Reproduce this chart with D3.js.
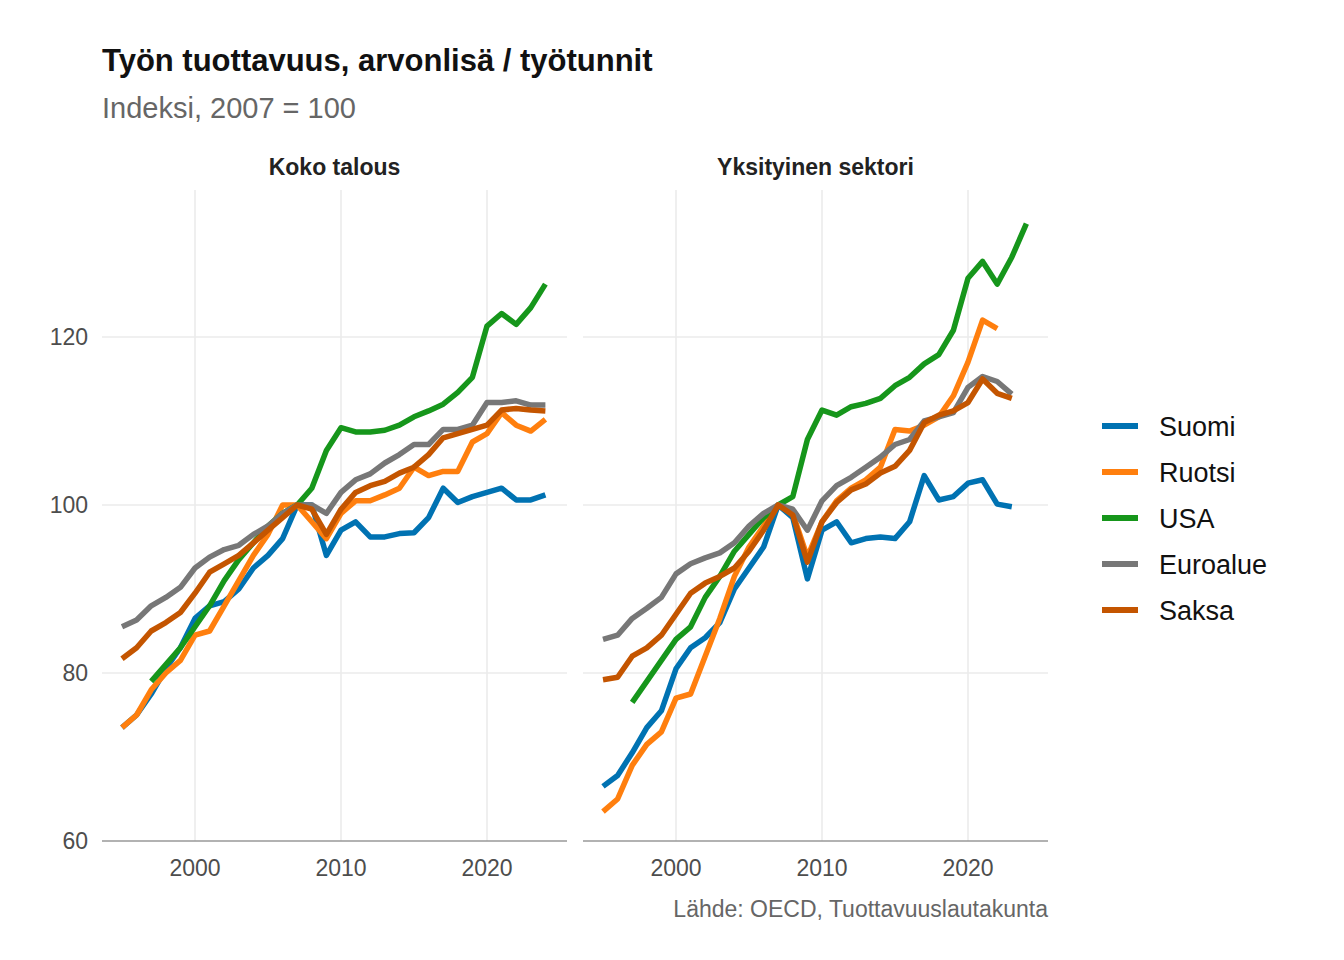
<!DOCTYPE html><html><head><meta charset="utf-8"><script src="https://cdn.jsdelivr.net/npm/d3@7"></script>
<style>body{margin:0;background:#fff}text{font-family:"Liberation Sans",Arial,sans-serif}</style></head><body>
<svg id="c" width="1344" height="960"></svg>
<script>
const seriesNames=["Suomi","Ruotsi","USA","Euroalue","Saksa"];
const colors=["#0072B2","#FF7F0E","#16961B","#777777","#C45500"];
const panels=["Koko talous","Yksityinen sektori"];
const xTicks=[2000,2010,2020];
const yTicks=[60,80,100,120];
// start years per panel/series
const startYears=[[1995,1995,1997,1995,1995],[1995,1995,1997,1995,1995]];
const kokoSuomi=[73.5,75,77.5,80.5,83,86.5,88,88.5,90,92.5,94,96,100,100,94,97,98,96.2,96.2,96.6,96.7,98.5,102,100.3,101,101.5,102,100.6,100.6,101.2];
const kokoRuotsi=[73.5,75,78,80,81.5,84.5,85,88,91,94,96.5,100,100,98,96,99,100.5,100.5,101.2,102,104.5,103.5,104,104,107.5,108.5,111,109.5,108.8,110.2];
const kokoUSA=[79,81,83,85.5,88,91,93.5,95.5,97.5,99,100,102,106.5,109.2,108.7,108.7,108.9,109.5,110.5,111.2,112,113.4,115.2,121.3,122.8,121.5,123.5,126.3];
const kokoEuro=[85.5,86.3,88,89,90.2,92.5,93.8,94.7,95.2,96.5,97.5,99,100,100,99,101.5,103,103.7,105,106,107.2,107.2,109,109,109.5,112.2,112.2,112.4,111.9,111.9];
const kokoSaksa=[81.7,83,85,86,87.2,89.5,92,93,94,95.5,97,98.5,100,99.5,96.5,99.5,101.5,102.3,102.8,103.8,104.5,106,108,108.5,109,109.5,111.3,111.5,111.3,111.2];
const yksSuomi=[66.5,67.8,70.5,73.5,75.5,80.5,83,84.2,86,90,92.5,95,100,98.5,91.2,97,98,95.5,96,96.2,96,98,103.5,100.6,101,102.6,103,100.1,99.8];
const yksRuotsi=[63.5,65,69,71.5,73,77,77.5,82,86.5,91.5,95,97.5,100,99,93.8,98,100.5,102,103,104.5,109,108.8,109.5,110.5,113,117,122,121];
const yksUSA=[76.5,79,81.5,84,85.5,89,91.5,94.5,96.5,98.5,100,101,107.8,111.3,110.7,111.7,112.1,112.7,114.2,115.2,116.8,117.9,120.8,127,129,126.3,129.5,133.5];
const yksEuro=[84,84.5,86.5,87.7,89,91.8,93,93.7,94.3,95.5,97.5,99,100,99.5,97,100.5,102.3,103.3,104.5,105.7,107.2,107.8,110,110.5,111,114,115.3,114.7,113.2];
const yksSaksa=[79.2,79.5,82,83,84.5,87,89.5,90.7,91.5,92.5,94.5,97,100,98.8,93.2,98,100.3,101.8,102.5,103.8,104.6,106.5,109.8,110.7,111.2,112.2,115,113.3,112.7];
const data=[[kokoSuomi,kokoRuotsi,kokoUSA,kokoEuro,kokoSaksa],[yksSuomi,yksRuotsi,yksUSA,yksEuro,yksSaksa]];

const svg=d3.select("#c");
svg.append("text").attr("x",102).attr("y",71).attr("font-size",31).attr("font-weight","bold").attr("fill","#111").text("Työn tuottavuus, arvonlisä / työtunnit");
svg.append("text").attr("x",102).attr("y",118).attr("font-size",29).attr("fill","#666").text("Indeksi, 2007 = 100");
const y=d3.scaleLinear().domain([60,137.5]).range([841,190]);
const lefts=[[102,567],[583,1048]];
panels.forEach((p,pi)=>{
  const x=d3.scaleLinear().domain([1993.63,2025.48]).range(lefts[pi]);
  const g=svg.append("g");
  g.selectAll(".gy").data(yTicks.slice(1)).join("line").attr("x1",lefts[pi][0]).attr("x2",lefts[pi][1]).attr("y1",d=>y(d)).attr("y2",d=>y(d)).attr("stroke","#ebebeb").attr("stroke-width",1.6);
  g.selectAll(".gx").data(xTicks).join("line").attr("x1",d=>x(d)).attr("x2",d=>x(d)).attr("y1",190).attr("y2",841).attr("stroke","#ebebeb").attr("stroke-width",1.6);
  g.append("line").attr("x1",lefts[pi][0]).attr("x2",lefts[pi][1]).attr("y1",841).attr("y2",841).attr("stroke","#999").attr("stroke-width",1.6);
  g.selectAll(".xt").data(xTicks).join("text").attr("x",d=>x(d)).attr("y",876).attr("text-anchor","middle").attr("font-size",23).attr("fill","#4d4d4d").text(d=>d);
  g.append("text").attr("x",(lefts[pi][0]+lefts[pi][1])/2).attr("y",175).attr("text-anchor","middle").attr("font-size",23).attr("font-weight","bold").attr("fill","#222").text(p);
  const line=d3.line().x(d=>x(d[0])).y(d=>y(d[1]));
  data[pi].forEach((vals,si)=>{
    const pts=vals.map((v,i)=>[startYears[pi][si]+i,v]);
    g.append("path").attr("d",line(pts)).attr("fill","none").attr("stroke",colors[si]).attr("stroke-width",5.5).attr("stroke-linejoin","round");
  });
});
svg.selectAll(".yt").data(yTicks).join("text").attr("x",88).attr("y",d=>y(d)+8).attr("text-anchor","end").attr("font-size",23).attr("fill","#4d4d4d").text(d=>d);
seriesNames.forEach((n,i)=>{
  const yy=426+i*46;
  svg.append("line").attr("x1",1102).attr("x2",1138).attr("y1",yy).attr("y2",yy).attr("stroke",colors[i]).attr("stroke-width",6);
  svg.append("text").attr("x",1159).attr("y",yy+10).attr("font-size",27).attr("fill","#111").text(n);
});
svg.append("text").attr("x",1048).attr("y",917).attr("text-anchor","end").attr("font-size",23).attr("fill","#666").text("Lähde: OECD, Tuottavuuslautakunta");
</script></body></html>
